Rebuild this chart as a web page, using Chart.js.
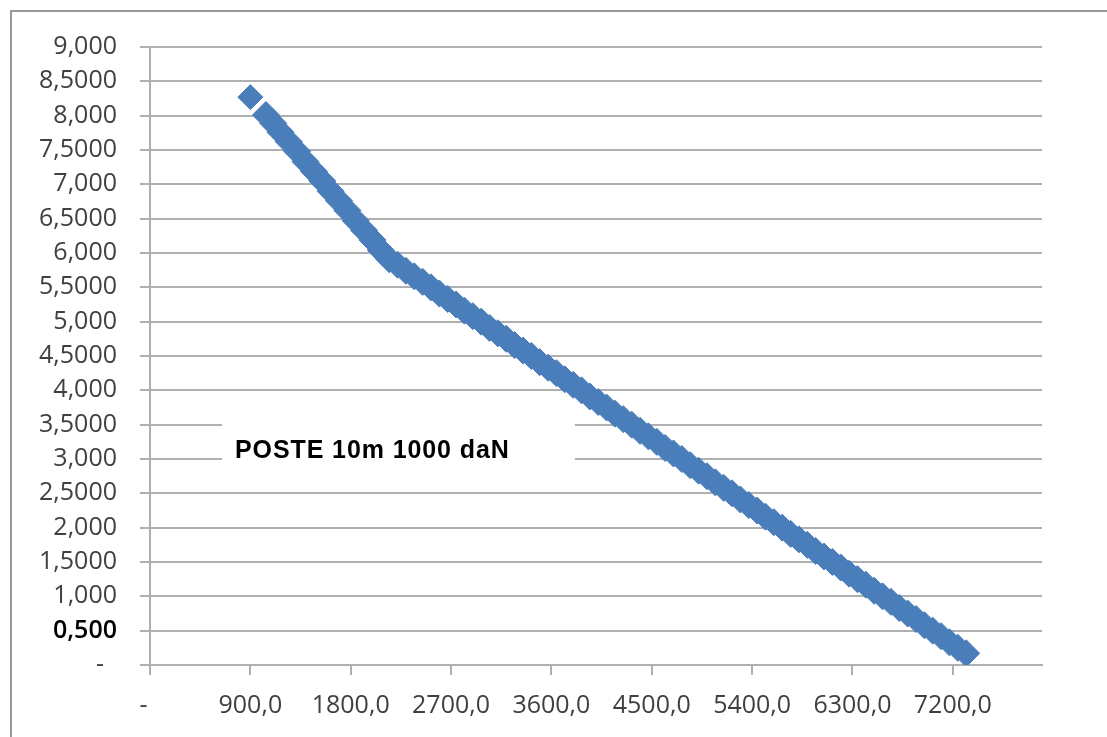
<!DOCTYPE html>
<html>
<head>
<meta charset="utf-8">
<title>POSTE 10m 1000 daN</title>
<script src="https://cdn.jsdelivr.net/npm/chart.js@4.4.1/dist/chart.umd.min.js"></script>
<style>
  html, body { margin: 0; padding: 0; background: #fff; }
  #wrap { position: relative; width: 1107px; height: 737px; }
</style>
</head>
<body>
<div id="wrap"><canvas id="chart"></canvas></div>
<script>
const chartTitle = "POSTE 10m 1000 daN";

// valeurs (abscisse / ordonnee)
const xValues = [
  900,
  1040, 1105, 1170, 1245, 1320, 1395, 1470, 1545, 1620, 1695, 1770, 1845, 1920, 1995, 2070, 2145,
  2220, 2295, 2370, 2445, 2520, 2595, 2670, 2745, 2820, 2895, 2970, 3045, 3120, 3195, 3270, 3345,
  3420, 3495, 3570, 3645, 3720, 3795, 3870, 3945, 4020, 4095, 4170, 4245, 4320, 4395, 4470, 4545,
  4620, 4695, 4770, 4845, 4920, 4995, 5070, 5145, 5220, 5295, 5370, 5445, 5520, 5595, 5670, 5745,
  5820, 5895, 5970, 6045, 6120, 6195, 6270, 6345, 6420, 6495, 6570, 6645, 6720, 6795, 6870, 6945,
  7020, 7095, 7170, 7245, 7320
];
const yValues = [
  8.27,
  8.01, 7.89, 7.76, 7.62, 7.48, 7.33, 7.19, 7.05, 6.90, 6.76, 6.62, 6.47, 6.33, 6.19, 6.04, 5.91,
  5.83, 5.74, 5.66, 5.58, 5.50, 5.41, 5.33, 5.25, 5.16, 5.08, 5.00, 4.91, 4.83, 4.75, 4.66, 4.58,
  4.50, 4.41, 4.33, 4.25, 4.16, 4.08, 4.00, 3.91, 3.83, 3.75, 3.66, 3.58, 3.50, 3.41, 3.33, 3.25,
  3.16, 3.08, 3.00, 2.91, 2.83, 2.75, 2.66, 2.58, 2.50, 2.41, 2.33, 2.25, 2.16, 2.08, 2.00, 1.91,
  1.83, 1.75, 1.66, 1.58, 1.50, 1.42, 1.33, 1.25, 1.17, 1.08, 1.00, 0.92, 0.83, 0.75, 0.67, 0.58,
  0.50, 0.42, 0.33, 0.25, 0.17
];

const xTickValues = [0, 900, 1800, 2700, 3600, 4500, 5400, 6300, 7200];
const xTickLabels = ["-  ", "900,0", "1800,0", "2700,0", "3600,0", "4500,0", "5400,0", "6300,0", "7200,0"];
const yTickValues = [0, 0.5, 1, 1.5, 2, 2.5, 3, 3.5, 4, 4.5, 5, 5.5, 6, 6.5, 7, 7.5, 8, 8.5, 9];
const yTickLabels = ["-  ", "0,500", "1,000", "1,5000", "2,000", "2,5000", "3,000", "3,5000", "4,000",
  "4,5000", "5,000", "5,5000", "6,000", "6,5000", "7,000", "7,5000", "8,000", "8,5000", "9,000"];

const gridColor = "#b0b0b0";
const markerColor = "#4A7EBB";
const labelColor = "#404040";

Chart.defaults.font.family = "'Open Sans', 'Noto Sans', sans-serif";

const framePlugin = {
  id: "frame",
  beforeDraw(chart) {
    const ctx = chart.ctx;
    ctx.save();
    ctx.fillStyle = "#fff";
    ctx.fillRect(0, 0, chart.width, chart.height);
    ctx.strokeStyle = "#999999";
    ctx.lineWidth = 2;
    ctx.beginPath();
    ctx.moveTo(11, chart.height);
    ctx.lineTo(11, 11);
    ctx.lineTo(chart.width, 11);
    ctx.stroke();
    ctx.restore();
  },
  beforeDatasetsDraw(chart) {
    const ctx = chart.ctx;
    ctx.save();
    ctx.fillStyle = "#fff";
    ctx.fillRect(222, 410, 353, 64);
    ctx.fillStyle = "#000";
    ctx.font = "bold 25px 'Liberation Sans', Arial, sans-serif";
    ctx.letterSpacing = "0.9px";
    ctx.textBaseline = "alphabetic";
    ctx.textAlign = "left";
    ctx.fillText(chartTitle, 235, 458);
    ctx.restore();
  }
};

new Chart(document.getElementById("chart"), {
  type: "scatter",
  data: {
    datasets: [{
      label: chartTitle,
      data: xValues.map((x, i) => ({ x, y: yValues[i] })),
      showLine: false,
      pointStyle: "rectRot",
      pointRadius: (c) => (c.dataIndex === 0 ? 12.5 : 13.5),
      pointBorderWidth: 1,
      backgroundColor: markerColor,
      borderColor: markerColor
    }]
  },
  options: {
    responsive: true,
    maintainAspectRatio: false,
    animation: false,
    layout: { padding: { left: 0, top: 47, right: 65, bottom: 0 } },
    plugins: {
      legend: { display: false },
      tooltip: { enabled: false }
    },
    scales: {
      x: {
        type: "linear",
        min: 0,
        max: 8000,
        afterBuildTicks: (scale) => { scale.ticks = xTickValues.map((v) => ({ value: v })); },
        afterFit: (scale) => { scale.height = 72; },
        grid: { drawOnChartArea: false, drawTicks: true, tickLength: 10, color: gridColor, lineWidth: 2 },
        border: { color: gridColor, width: 2 },
        ticks: {
          padding: 16,
          color: labelColor,
          maxRotation: 0,
          autoSkip: false,
          font: { size: 25 },
          callback: (value) => xTickLabels[xTickValues.indexOf(value)]
        }
      },
      y: {
        min: 0,
        max: 9,
        afterBuildTicks: (scale) => { scale.ticks = yTickValues.map((v) => ({ value: v })); },
        afterFit: (scale) => { scale.width = 150; },
        grid: { color: gridColor, lineWidth: 2, tickLength: 10 },
        border: { color: gridColor, width: 2 },
        ticks: {
          padding: 23,
          autoSkip: false,
          color: (c) => (c.tick && c.tick.value === 0.5 ? "#000" : labelColor),
          font: (c) => (c.tick && c.tick.value === 0.5 ? { size: 25, weight: "600" } : { size: 25 }),
          callback: (value) => yTickLabels[yTickValues.indexOf(value)]
        }
      }
    }
  },
  plugins: [framePlugin]
});
</script>
</body>
</html>
